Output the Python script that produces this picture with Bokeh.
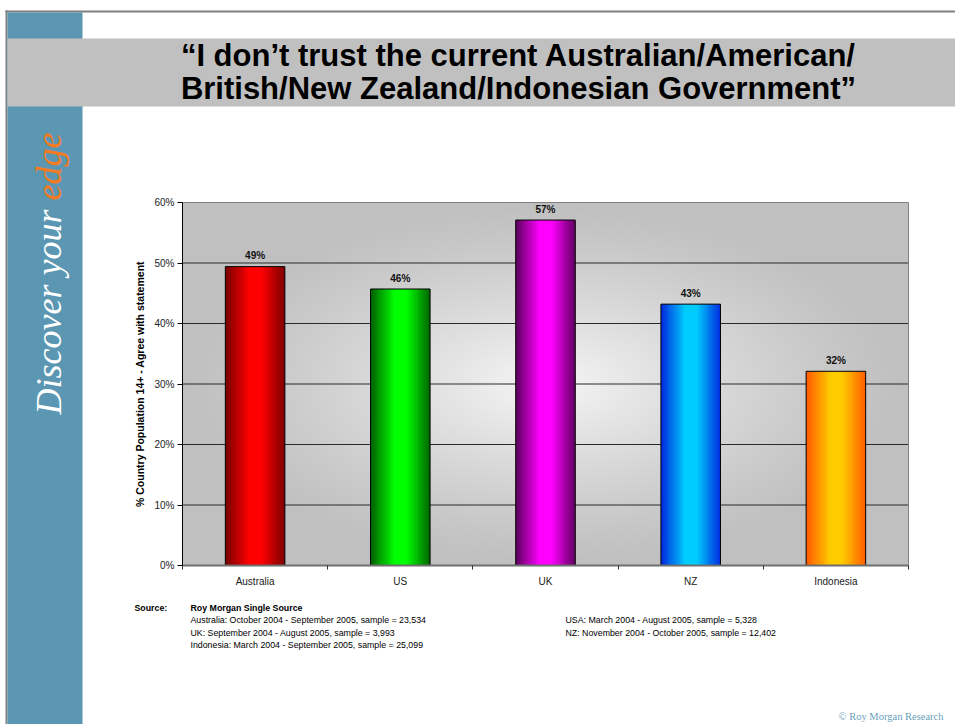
import numpy as np
from bokeh.plotting import figure
from bokeh.models import (ColumnDataSource, FixedTicker, PrintfTickFormatter,
                          Range1d, LinearAxis)
from bokeh.core.properties import value
from bokeh.embed import file_html
from bokeh.resources import INLINE

# ---------------- data ----------------
countries = ["Australia", "US", "UK", "NZ", "Indonesia"]
agree_pct = [49.4, 45.7, 57.1, 43.2, 32.1]
value_labels = ["49%", "46%", "57%", "43%", "32%"]
y_ticks = [0, 10, 20, 30, 40, 50, 60]
bar_edge_colors = ["#7a0000", "#006000", "#5c005c", "#0028e0", "#ff5a00"]
bar_mid_colors = ["#ff0000", "#00ff00", "#ff00ff", "#00ccff", "#ffcc00"]
title_lines = ["\u201cI don\u2019t trust the current Australian/American/",
               "British/New Zealand/Indonesian Government\u201d"]
y_label = "% Country Population 14+ - Agree with statement"
source_heading = "Roy Morgan Single Source"
source_left = ["Australia: October 2004 - September 2005, sample = 23,534",
               "UK: September 2004 - August 2005, sample = 3,993",
               "Indonesia: March 2004 - September 2005, sample = 25,099"]
source_right = ["USA: March 2004 - August 2005, sample = 5,328",
                "NZ: November 2004 - October 2005, sample = 12,402"]

SANS = "Liberation Sans"
SERIF = "Liberation Serif"
BLUE = "#5b97b2"

# ---------------- page layout (pixels) ----------------
W, H = 955, 724
FL, FR, FT, FB = 182, 908, 202, 565       # chart plot-area edges on the page
YMIN, YMAX = 0, 60
XMIN, XMAX = 0.5, len(countries) + 0.5

p = figure(width=W, height=H, output_backend="svg", toolbar_location=None,
           x_range=Range1d(0, W), y_range=Range1d(H, 0),
           x_axis_type=None, y_axis_type=None, min_border=0,
           background_fill_color="white", border_fill_color="white")
p.outline_line_color = None
p.xgrid.visible = False
p.ygrid.visible = False

# chart ranges mapped onto the page so that the plot area lands at FL..FR / FT..FB
kx = (XMAX - XMIN) / (FR - FL)
ky = (YMAX - YMIN) / (FB - FT)
p.extra_x_ranges = {"cx": Range1d(XMIN - FL * kx, XMAX + (W - FR) * kx)}
p.extra_y_ranges = {"cy": Range1d(YMIN - (H - FB) * ky, YMAX + FT * ky)}
C = dict(x_range_name="cx", y_range_name="cy")

# ---------------- page decorations ----------------
p.quad(left=[5], right=[W], top=[10], bottom=[12], fill_color="#808080", line_color=None)
p.quad(left=[5], right=[7], top=[10], bottom=[H], fill_color="#808080", line_color=None)
p.quad(left=[7], right=[82], top=[12], bottom=[H], fill_color=BLUE, line_color=None)
p.quad(left=[7], right=[W], top=[38], bottom=[106], fill_color="#c0c0c0", line_color=None)

for i, line in enumerate(title_lines):
    p.text(x=[518], y=[55 + 33 * i], text=[line], text_align="center",
           text_baseline="middle", text_font=value(SANS), text_font_style="bold",
           text_font_size="31px", text_color="#000000")

p.text(x=[48], y=[209], text=["Discover your"], angle=np.pi / 2, text_align="right",
       text_baseline="middle", text_font=value(SERIF), text_font_style="italic",
       text_font_size="36px", text_color="#ffffff")
p.text(x=[48], y=[200], text=["edge"], angle=np.pi / 2, text_align="left",
       text_baseline="middle", text_font=value(SERIF), text_font_style="italic",
       text_font_size="36px", text_color="#f57a20")

small = dict(text_baseline="middle", text_font=value(SANS), text_font_size="8.8px",
             text_color="#000000")
p.text(x=[134], y=[607], text=["Source:"], text_font_style="bold", **small)
p.text(x=[190], y=[607], text=[source_heading], text_font_style="bold", **small)
for i, line in enumerate(source_left):
    p.text(x=[190], y=[619.8 + 12.4 * i], text=[line], **small)
for i, line in enumerate(source_right):
    p.text(x=[565], y=[619.8 + 12.4 * i], text=[line], **small)

p.text(x=[943], y=[715.5], text=["\u00a9 Roy Morgan Research"], text_align="right",
       text_baseline="middle", text_font=value(SERIF), text_font_size="10.5px",
       text_color="#6a9fbb")

# ---------------- chart plot area ----------------
ny, nx = 182, 364
yy, xx = np.mgrid[0:ny, 0:nx]
dx = (xx + 0.5) / nx * 2 - 1
dy = (yy + 0.5) / ny * 2 - 1
t = np.clip(np.sqrt(dx ** 2 + dy ** 2), 0, 1)
lum = (192 + (246 - 192) * (1 - t) ** 1.2).astype(np.uint8)
bg = np.empty((ny, nx), dtype=np.uint32)
v = bg.view(dtype=np.uint8).reshape((ny, nx, 4))
v[..., 0] = lum
v[..., 1] = lum
v[..., 2] = lum
v[..., 3] = 255
p.image_rgba(image=[bg], x=XMIN, y=YMIN, dw=XMAX - XMIN, dh=YMAX - YMIN, **C)

grid_vals = [g for g in y_ticks if YMIN < g < YMAX]
p.segment(x0=[XMIN] * len(grid_vals), x1=[XMAX] * len(grid_vals), y0=grid_vals,
          y1=grid_vals, line_color="#2a2a2a", line_width=1, **C)
p.quad(left=[XMIN], right=[XMAX], bottom=[YMIN], top=[YMAX], fill_color=None,
       line_color="#808080", line_width=1, **C)


def hex2rgb(h):
    h = h.lstrip("#")
    return np.array([int(h[i:i + 2], 16) for i in (0, 2, 4)], dtype=float)


bar_w = 0.41
centers = [i + 1 for i in range(len(countries))]
imgs, xs, ys, dws, dhs = [], [], [], [], []
ncol = 64
u = (np.arange(ncol) + 0.5) / ncol
s = np.clip((1 - np.abs(2 * u - 1)) * 1.25, 0, 1)
for c, val, ec, mc in zip(centers, agree_pct, bar_edge_colors, bar_mid_colors):
    e, m = hex2rgb(ec), hex2rgb(mc)
    cols = e[None, :] + (m - e)[None, :] * s[:, None]
    im = np.empty((2, ncol), dtype=np.uint32)
    vv = im.view(dtype=np.uint8).reshape((2, ncol, 4))
    for k in range(3):
        vv[:, :, k] = cols[:, k].astype(np.uint8)[None, :]
    vv[:, :, 3] = 255
    imgs.append(im)
    xs.append(c - bar_w / 2)
    ys.append(0)
    dws.append(bar_w)
    dhs.append(val)
p.image_rgba(image="image", x="x", y="y", dw="dw", dh="dh",
             source=ColumnDataSource(dict(image=imgs, x=xs, y=ys, dw=dws, dh=dhs)), **C)
p.vbar(x=centers, top=agree_pct, width=bar_w, fill_color=None,
       line_color="#000000", line_width=1, **C)

p.text(x=centers, y=agree_pct, text=value_labels, text_align="center",
       text_baseline="middle", y_offset=-11, text_font=value(SANS),
       text_font_style="bold", text_font_size="10px", text_color="#111111", **C)

# ---------------- axes ----------------
xa = LinearAxis(fixed_location=YMIN, bounds=(XMIN, XMAX), **C)
xa.ticker = FixedTicker(ticks=centers,
                        minor_ticks=[c - 0.5 for c in centers] + [XMAX])
xa.major_label_overrides = {c: n for c, n in zip(centers, countries)}
xa.major_tick_line_color = None
xa.minor_tick_in = 0
xa.minor_tick_out = 4
xa.minor_tick_line_color = "#333333"
xa.axis_line_color = "#6e6e6e"
xa.axis_line_width = 2
xa.major_label_text_font = SANS
xa.major_label_text_font_size = "10px"
xa.major_label_text_color = "#222222"
xa.major_label_standoff = 4
p.add_layout(xa, "below")

ya = LinearAxis(fixed_location=XMIN, bounds=(YMIN, YMAX), **C)
ya.ticker = FixedTicker(ticks=y_ticks)
ya.formatter = PrintfTickFormatter(format="%d%%")
ya.minor_tick_line_color = None
ya.major_tick_in = 0
ya.major_tick_out = 5
ya.axis_line_color = "#000000"
ya.major_tick_line_color = "#000000"
ya.major_label_text_font = SANS
ya.major_label_text_font_size = "10px"
ya.major_label_text_color = "#222222"
ya.major_label_standoff = 3
ya.axis_label = y_label
ya.axis_label_text_font = SANS
ya.axis_label_text_font_style = "bold"
ya.axis_label_text_font_size = "10.5px"
ya.axis_label_text_color = "#000000"
ya.axis_label_standoff = 5
p.add_layout(ya, "left")

open("out.html", "w").write(file_html(p, INLINE))
